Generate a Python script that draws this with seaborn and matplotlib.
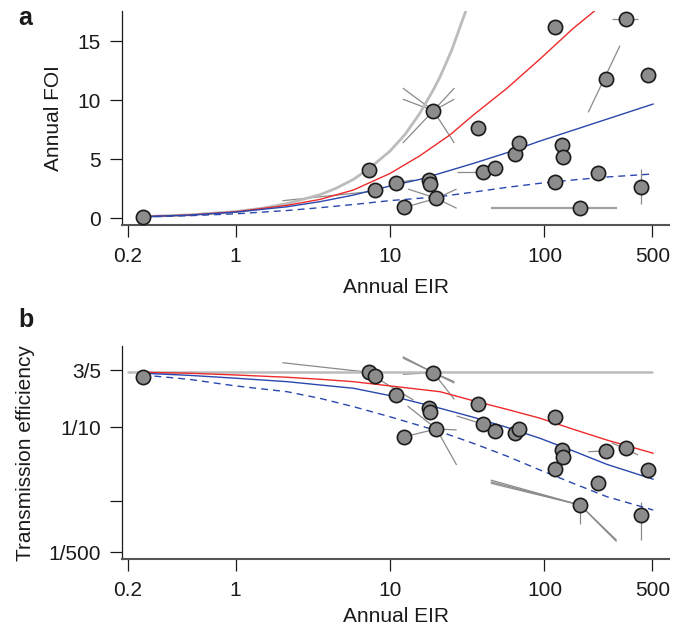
import matplotlib
matplotlib.use("Agg")
import matplotlib.pyplot as plt
from matplotlib import font_manager
from matplotlib.ticker import NullLocator, FixedLocator, FixedFormatter
import numpy as np
import pandas as pd
import seaborn as sns

# ---------------- data ----------------
eir = [0.251, 7.31, 8.0, 11.0, 12.4, 17.9, 18.2, 19.1, 20.0, 37.3, 40.2, 48.1,
       64.4, 68.4, 117, 116.5, 129.7, 132.4, 170, 223, 250, 335, 420, 470]
foi = [0.14, 4.09, 2.40, 3.02, 0.93, 3.25, 2.90, 9.12, 1.69, 7.63, 3.95, 4.24,
       5.42, 6.36, 16.19, 3.10, 6.21, 5.22, 0.85, 3.81, 11.8, 16.89, 2.68, 12.14]
te = [0.480, 0.561, 0.50, 0.275, 0.0744, 0.1815, 0.160, 0.555, 0.0948, 0.2056, 0.110, 0.089,
      0.0845, 0.094, 0.138, 0.0268, 0.049, 0.0398, 0.00873, 0.01726, 0.0475, 0.0518, 0.00638, 0.0262]

# panel a curves (Annual FOI)
gray_a_eir = [0.25, 0.5, 1, 1.5, 2.16, 3.52, 4.5, 5.8, 7.3, 10, 12.5, 15.6, 19.1, 21.1, 25, 31]
gray_a_foi = [0.14, 0.29, 0.57, 0.86, 1.25, 2.0, 2.56, 3.3, 4.2, 5.7, 7.1, 8.9, 10.9, 12.0, 14.2, 17.6]
red_a_eir = [0.25, 0.5, 1, 2.16, 3.52, 5.8, 10, 15.6, 21.1, 24.4, 34.6, 56.9, 93.5, 153.5, 212]
red_a_foi = [0.14, 0.28, 0.55, 1.1, 1.6, 2.4, 3.8, 5.3, 6.49, 7.06, 8.75, 11.0, 13.5, 16.1, 17.6]
blue_a_eir = [0.25, 0.5, 1, 2.16, 3.52, 5.8, 10, 15.6, 21.1, 34.6, 56.9, 93.5, 153.5, 253, 506]
blue_a_foi = [0.14, 0.27, 0.52, 0.98, 1.41, 1.97, 2.74, 3.3, 3.81, 4.65, 5.55, 6.55, 7.47, 8.4, 9.69]
dash_a_eir = [0.25, 0.5, 1, 2.16, 3.52, 5.8, 10, 15.6, 21.1, 34.6, 56.9, 93.5, 153.5, 253, 506]
dash_a_foi = [0.12, 0.22, 0.38, 0.66, 0.9, 1.17, 1.5, 1.7, 1.84, 2.22, 2.62, 2.97, 3.25, 3.5, 3.76]

# panel b curves (Transmission efficiency)
gray_b_eir = [0.2, 500]
gray_b_te = [0.57, 0.57]
red_b_eir = [0.25, 0.5, 1, 2.16, 3.52, 5.8, 10, 21.1, 34.6, 56.9, 93.5, 153.5, 253, 506]
red_b_te = [0.561, 0.545, 0.516, 0.48, 0.451, 0.418, 0.366, 0.305, 0.230, 0.176, 0.133, 0.094, 0.0671, 0.0443]
blue_b_eir = [0.25, 0.5, 1, 2.16, 3.52, 5.8, 10, 21.1, 34.6, 56.9, 93.5, 153.5, 253, 506]
blue_b_te = [0.545, 0.51, 0.466, 0.418, 0.377, 0.34, 0.27, 0.1815, 0.137, 0.100, 0.0708, 0.0476, 0.0313, 0.0196]
dash_b_eir = [0.25, 0.5, 1, 2.16, 3.52, 5.8, 10, 21.1, 34.6, 56.9, 93.5, 153.5, 253, 506]
dash_b_te = [0.516, 0.45, 0.366, 0.305, 0.248, 0.191, 0.139, 0.0872, 0.0605, 0.0406, 0.0262, 0.01725, 0.01135, 0.00746]

# uncertainty segments (x0, y0, x1, y1)
seg_a = [(2.01, 1.49, 7.9, 2.3), (11.0, 3.02, 14.2, 3.25), (12.4, 0.93, 20.0, 1.69),
         (13.1, 2.48, 20.0, 1.69), (27, 2.48, 20.0, 1.69), (27, 0.85, 20.0, 1.69),
         (12.1, 11.04, 19.1, 9.12), (12.1, 10.1, 19.1, 9.12), (26.1, 11.04, 19.1, 9.12),
         (26.1, 10.1, 19.1, 9.12), (12.1, 6.38, 19.1, 9.12), (26.1, 6.38, 19.1, 9.12),
         (27, 3.95, 40.2, 3.95), (192, 8.98, 308, 14.63), (272, 16.89, 404, 16.89),
         (420, 4.15, 420, 1.19)]
seg_a_wide = [(44.9, 0.85, 293, 0.85)]
seg_b = [(2.01, 0.758, 7.31, 0.561), (8.6, 0.44, 14.2, 0.235),
         (12.1, 0.916, 19.1, 0.555), (12.1, 0.88, 19.1, 0.555), (12.1, 0.527, 19.1, 0.555),
         (26.1, 0.418, 19.1, 0.555), (26.1, 0.40, 19.1, 0.555), (26.1, 0.240, 19.1, 0.555),
         (13.0, 0.195, 20.0, 0.0948), (27, 0.092, 20.0, 0.0948), (27, 0.0306, 20.0, 0.0948),
         (12.4, 0.0744, 20.0, 0.0948), (27, 0.1425, 40.2, 0.110),
         (44.9, 0.0191, 170, 0.00873), (44.9, 0.0181, 170, 0.00873), (44.9, 0.0173, 170, 0.00873),
         (170, 0.00873, 293, 0.00277), (170, 0.00873, 293, 0.0029), (170, 0.00873, 170, 0.00476),
         (192, 0.0465, 250, 0.0475), (272, 0.0616, 404, 0.042), (420, 0.00968, 420, 0.00292)]

x_ticks = [0.2, 1, 10, 100, 500]
x_ticklabels = ["0.2", "1", "10", "100", "500"]
ya_ticks = [0, 5, 10, 15]
yb_ticks = [0.6, 0.1, 0.01, 0.002]
yb_ticklabels = ["3/5", "1/10", "", "1/500"]

# ---------------- style ----------------
sns.set_theme(style="ticks")
names = {f.name for f in font_manager.fontManager.ttflist}
fam = "Liberation Sans" if "Liberation Sans" in names else "DejaVu Sans"
plt.rcParams["font.family"] = [fam, "DejaVu Sans"]

RED = "#ee2a2a"
BLUE = "#2a48ad"
GRAYC = "#bcbcbc"
SEG = "#8a8a8a"
PT = "#8c8c8c"
TXT = "#1a1a1a"

fig = plt.figure(figsize=(6.86, 6.33), dpi=100)
axa = fig.add_axes([0.1783, 0.6445, 0.7969, 0.3386])
axb = fig.add_axes([0.1783, 0.1164, 0.7969, 0.3370])


def line(ax, x, y, color, lw, ls="-", z=2):
    sns.lineplot(x=x, y=y, ax=ax, color=color, linewidth=lw, linestyle=ls,
                 sort=False, estimator=None, zorder=z)


def segs(ax, seglist, color, lw):
    for x0, y0, x1, y1 in seglist:
        ax.plot([x0, x1], [y0, y1], color=color, lw=lw, zorder=1.5, solid_capstyle="butt")


dash = (0, (5.0, 3.6))

# panel a
segs(axa, seg_a, SEG, 0.9)
segs(axa, seg_a_wide, "#a0a0a0", 1.6)
line(axa, gray_a_eir, gray_a_foi, GRAYC, 2.0)
line(axa, red_a_eir, red_a_foi, RED, 1.0)
line(axa, blue_a_eir, blue_a_foi, BLUE, 1.0)
line(axa, dash_a_eir, dash_a_foi, BLUE, 1.0, dash)
sns.scatterplot(x=eir, y=foi, ax=axa, s=105, color=PT, edgecolor=TXT, linewidth=1.2, zorder=5)

# panel b
segs(axb, seg_b, SEG, 0.9)
line(axb, gray_b_eir, gray_b_te, GRAYC, 1.8)
line(axb, red_b_eir, red_b_te, RED, 1.0)
line(axb, blue_b_eir, blue_b_te, BLUE, 1.0)
line(axb, dash_b_eir, dash_b_te, BLUE, 1.0, dash)
sns.scatterplot(x=eir, y=te, ax=axb, s=105, color=PT, edgecolor=TXT, linewidth=1.2, zorder=5)

for ax in (axa, axb):
    ax.set_xscale("log")
    ax.set_xlim(0.185, 640)
    ax.xaxis.set_major_locator(FixedLocator(x_ticks))
    ax.xaxis.set_major_formatter(FixedFormatter(x_ticklabels))
    ax.xaxis.set_minor_locator(NullLocator())
    sns.despine(ax=ax)
    ax.spines["left"].set_color(TXT)
    ax.spines["left"].set_linewidth(0.9)
    ax.spines["bottom"].set_color("#555555")
    ax.spines["bottom"].set_linewidth(1.5)
    ax.tick_params(axis="both", which="major", direction="out", length=8.5, width=0.9,
                   color=TXT, labelsize=15, labelcolor=TXT, pad=7)
    ax.set_xlabel("Annual EIR", fontsize=15, color=TXT, va="center")
    ax.set_facecolor("white")
    ax.grid(False)

axa.set_ylim(-0.57, 17.6)
axa.yaxis.set_major_locator(FixedLocator(ya_ticks))
axa.set_ylabel("Annual FOI", fontsize=15, color=TXT, va="center")
axa.yaxis.set_label_coords(-0.125, 0.5)
axa.xaxis.set_label_coords(0.5, -0.29)

axb.set_yscale("log")
axb.set_ylim(0.00159, 1.28)
axb.yaxis.set_major_locator(FixedLocator(yb_ticks))
axb.yaxis.set_major_formatter(FixedFormatter(yb_ticklabels))
axb.yaxis.set_minor_locator(NullLocator())
axb.set_ylabel("Transmission efficiency", fontsize=15, color=TXT, va="center")
axb.yaxis.set_label_coords(-0.178, 0.5)
axb.xaxis.set_label_coords(0.5, -0.27)

fig.text(18 / 686, 1 - 25 / 633, "a", fontsize=18, fontweight="bold", color=TXT,
         ha="left", va="baseline")
fig.text(18 / 686, 1 - 327 / 633, "b", fontsize=18, fontweight="bold", color=TXT,
         ha="left", va="baseline")

fig.savefig("out.png", dpi=100, facecolor="white")
